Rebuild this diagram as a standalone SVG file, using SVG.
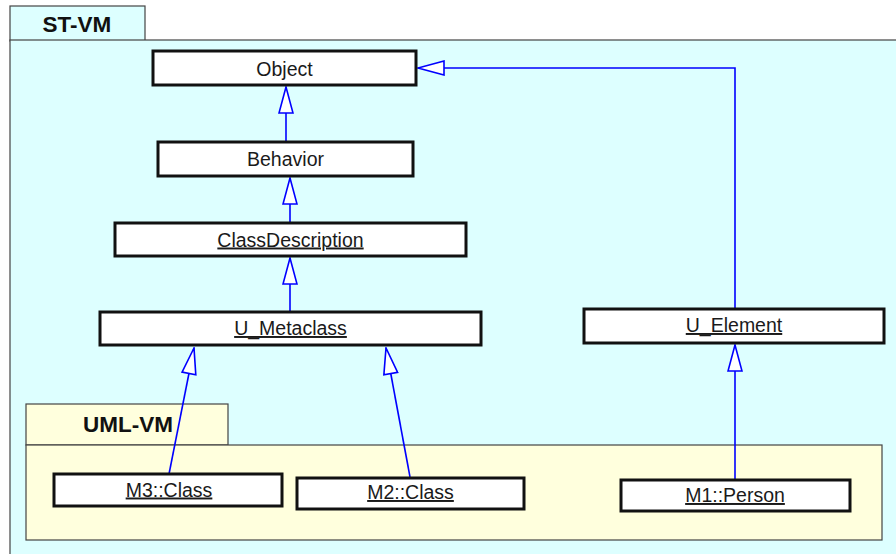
<svg xmlns="http://www.w3.org/2000/svg" width="896" height="554" viewBox="0 0 896 554">
<defs>
<style>
.pkg{fill:#ddffff;stroke:#444;stroke-width:1.2}
.pkg2{fill:#ffffdd;stroke:#444;stroke-width:1.2}
.box{fill:#fff;stroke:#111;stroke-width:3}
.lbl{font-family:"Liberation Sans",Arial,sans-serif;font-size:19.5px;fill:#1a1a1a;text-anchor:middle}
.u{text-decoration:underline}
.title{font-family:"Liberation Sans",Arial,sans-serif;font-size:22.5px;font-weight:bold;fill:#111;text-anchor:middle}
.conn{fill:none;stroke:#0000ff;stroke-width:1.6}
</style>
<marker id="gen" viewBox="0 0 30 16" refX="29" refY="8" markerWidth="30" markerHeight="16" markerUnits="userSpaceOnUse" orient="auto">
<path d="M29,8 L3,1 L3,15 Z" fill="#fff" stroke="#0000ff" stroke-width="1.6"/>
</marker>
</defs>
<rect width="896" height="554" fill="#fff"/>
<g id="ST-VM">
<rect class="pkg" x="10" y="6" width="135" height="35"/>
<rect class="pkg" x="10" y="40" width="890" height="520"/>
<text class="title" x="77" y="32">ST-VM</text>
</g>
<g id="UML-VM">
<rect class="pkg2" x="26" y="404" width="202" height="41"/>
<rect class="pkg2" x="26" y="445" width="856" height="95"/>
<text class="title" x="128" y="432">UML-VM</text>
</g>
<g id="connectors">
<path class="conn" d="M286,142 L286,87" marker-end="url(#gen)"/>
<path class="conn" d="M290,223 L290,178" marker-end="url(#gen)"/>
<path class="conn" d="M290,312 L290,258" marker-end="url(#gen)"/>
<path class="conn" d="M735,308 L735,68 L418,68" marker-end="url(#gen)"/>
<path class="conn" d="M735,479 L735,345" marker-end="url(#gen)"/>
<path class="conn" d="M169,474 L194,348" marker-end="url(#gen)"/>
<path class="conn" d="M410,477 L386,348" marker-end="url(#gen)"/>
</g>
<g id="Object">
<rect class="box" x="153" y="51" width="263" height="34"/>
<text class="lbl" x="284.5" y="76">Object</text>
</g>
<g id="Behavior">
<rect class="box" x="158" y="142" width="255" height="34"/>
<text class="lbl" x="285.5" y="166">Behavior</text>
</g>
<g id="ClassDescription">
<rect class="box" x="115" y="223" width="351" height="33"/>
<text class="lbl u" x="290.5" y="246.5">ClassDescription</text>
</g>
<g id="U_Metaclass">
<rect class="box" x="100" y="312" width="381" height="33"/>
<text class="lbl u" x="290.5" y="335">U_Metaclass</text>
</g>
<g id="U_Element">
<rect class="box" x="584" y="309" width="300" height="34"/>
<text class="lbl u" x="734" y="332">U_Element</text>
</g>
<g id="M3Class">
<rect class="box" x="54" y="474" width="228" height="32"/>
<text class="lbl u" x="169" y="496.5">M3::Class</text>
</g>
<g id="M2Class">
<rect class="box" x="297" y="478" width="227" height="31"/>
<text class="lbl u" x="410.5" y="499">M2::Class</text>
</g>
<g id="M1Person">
<rect class="box" x="621" y="480" width="229" height="31"/>
<text class="lbl u" x="735" y="502">M1::Person</text>
</g>
</svg>
